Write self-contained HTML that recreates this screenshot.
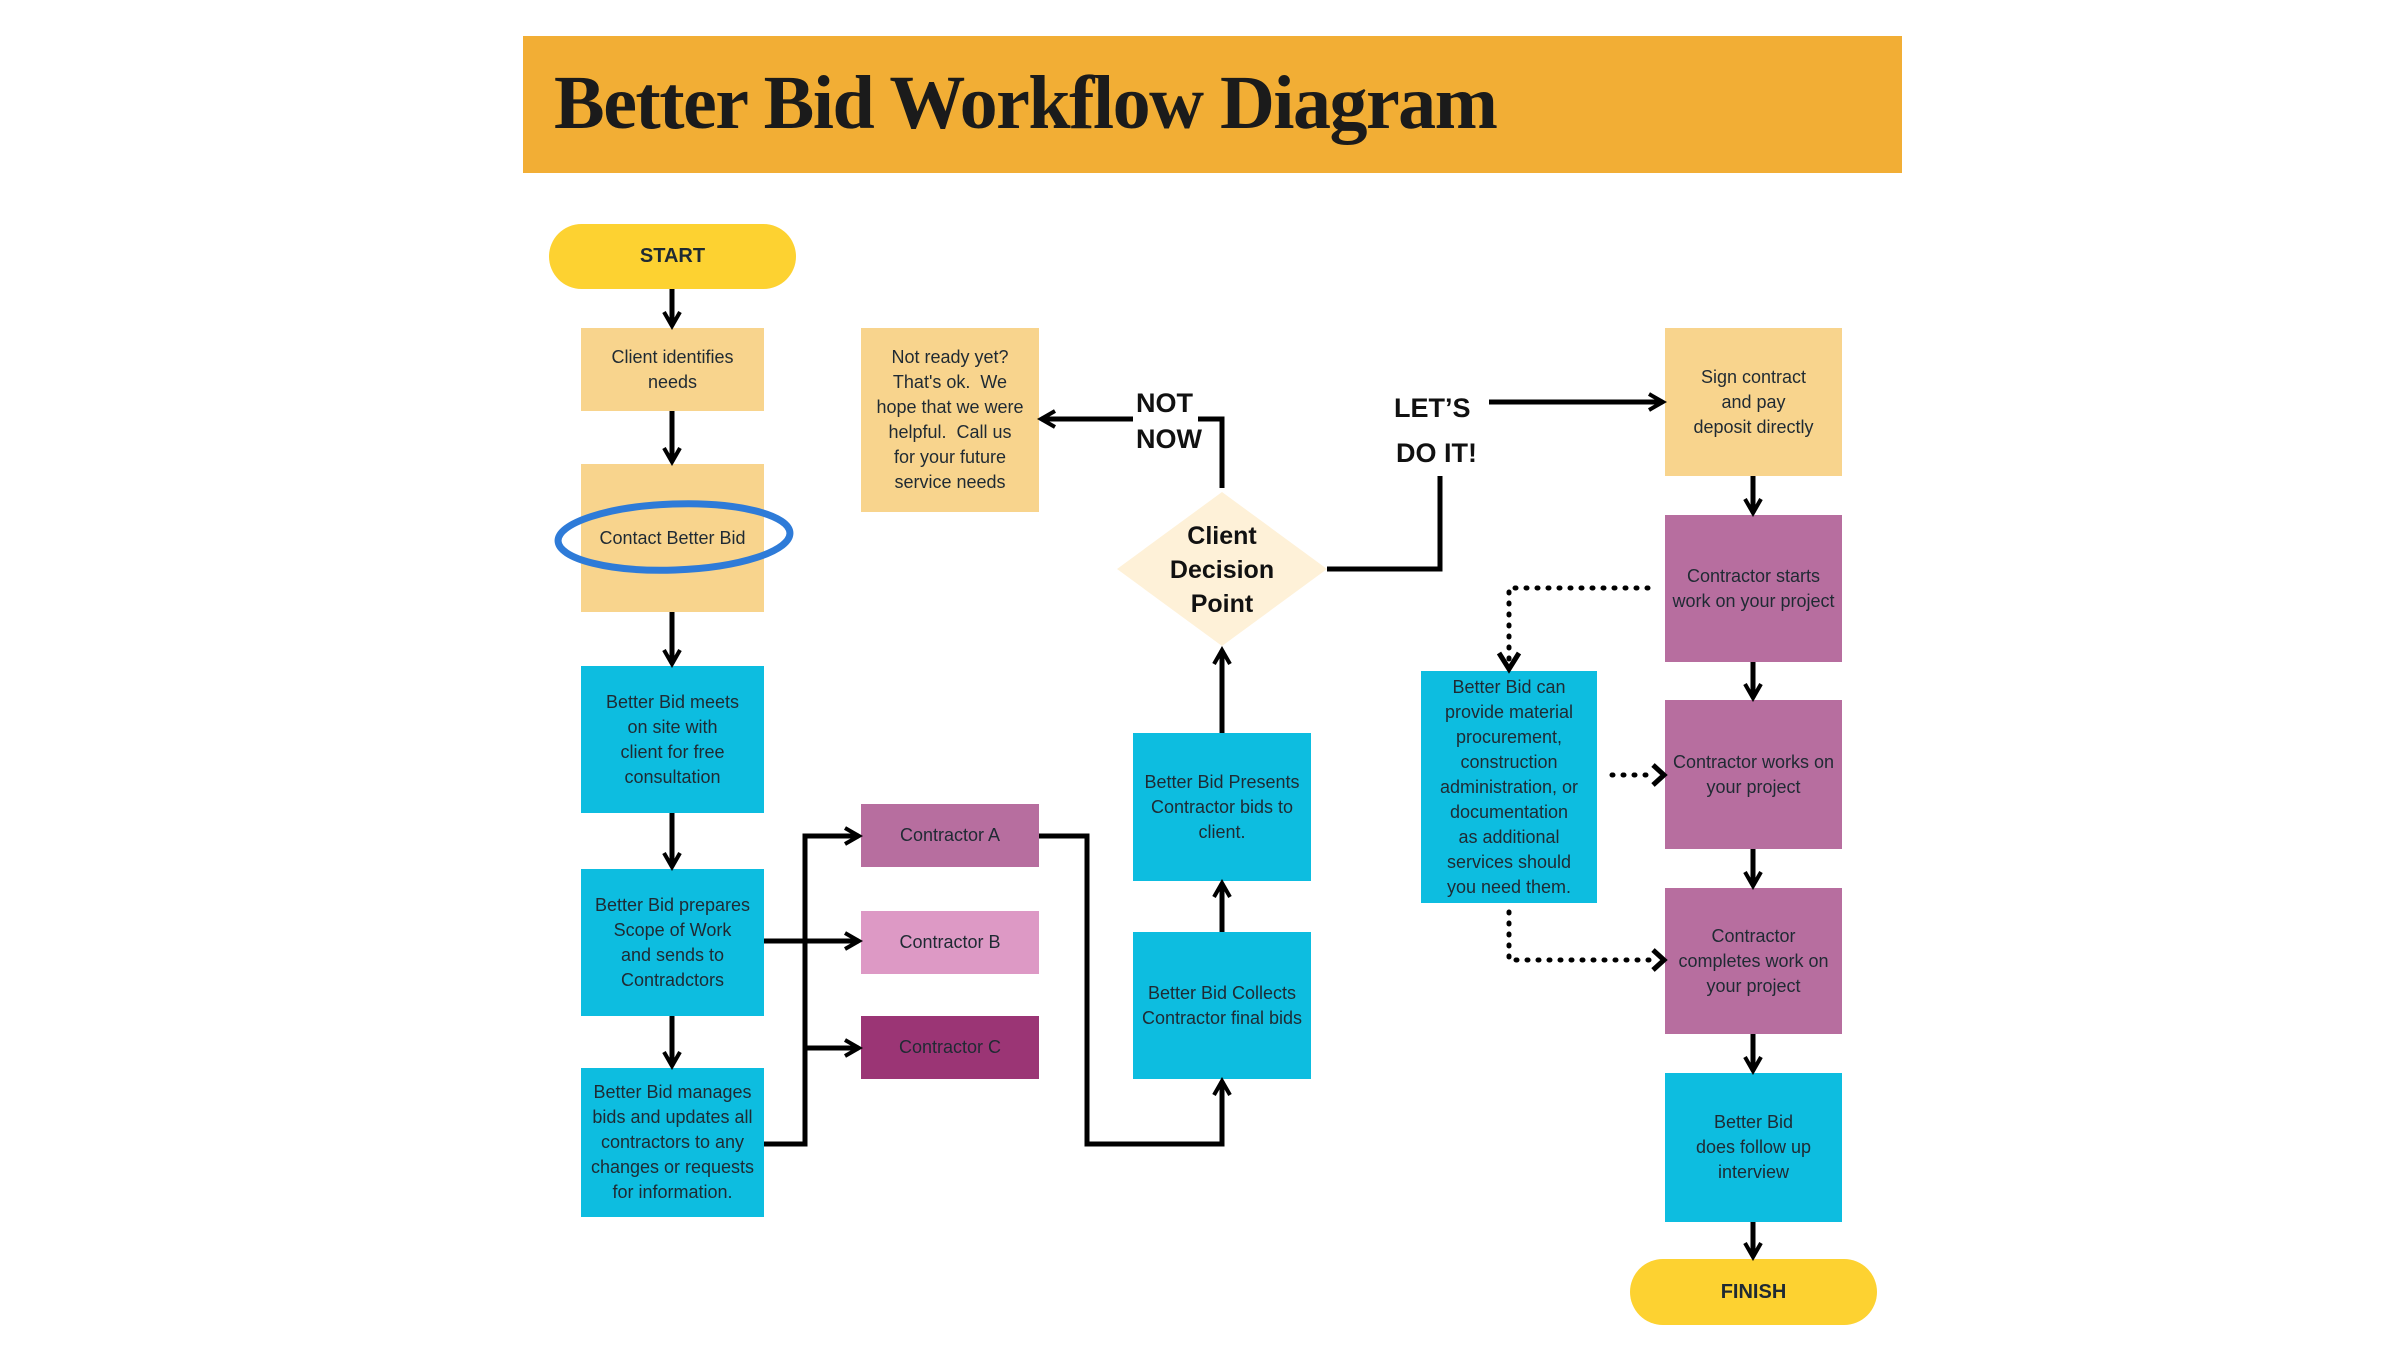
<!DOCTYPE html>
<html><head><meta charset="utf-8"><style>
html,body{margin:0;padding:0;background:#fff;}
body{width:2400px;height:1350px;position:relative;overflow:hidden;font-family:"Liberation Sans",sans-serif;}
.b{position:absolute;display:flex;align-items:center;justify-content:center;text-align:center;font-size:18px;line-height:25px;color:#1f2a33;box-sizing:border-box;padding:0 2px;}
.o{background:#F8D48D;}
.c{background:#0DBDE0;}
.p{background:#B76E9F;}
.lbl{position:absolute;font-weight:bold;font-size:27px;color:#111;line-height:30px;}
svg{position:absolute;left:0;top:0;}
</style></head><body>
<div style="position:absolute;left:523px;top:36px;width:1379px;height:137px;background:#F2AE35;"></div>
<div style="position:absolute;left:554px;top:58px;font-family:'Liberation Serif',serif;font-weight:bold;font-size:76px;letter-spacing:-1.5px;color:#1b1b1b;line-height:90px;">Better Bid Workflow Diagram</div>

<div class="b" style="left:549px;top:224px;width:247px;height:65px;background:#FDD231;border-radius:33px;font-weight:bold;font-size:20px;">START</div>
<div class="b o" style="left:581px;top:328px;width:183px;height:83px;">Client identifies<br>needs</div>
<div class="b o" style="left:581px;top:464px;width:183px;height:148px;">Contact Better Bid</div>
<div class="b c" style="left:581px;top:666px;width:183px;height:147px;">Better Bid meets<br>on site with<br>client for free<br>consultation</div>
<div class="b c" style="left:581px;top:869px;width:183px;height:147px;">Better Bid prepares<br>Scope of Work<br>and sends to<br>Contradctors</div>
<div class="b c" style="left:581px;top:1068px;width:183px;height:149px;">Better Bid manages<br>bids and updates all<br>contractors to any<br>changes or requests<br>for information.</div>

<div class="b o" style="left:861px;top:328px;width:178px;height:184px;">Not ready yet?<br>That's ok.&nbsp; We<br>hope that we were<br>helpful.&nbsp; Call us<br>for your future<br>service needs</div>
<div class="b" style="left:861px;top:804px;width:178px;height:63px;background:#B76E9F;">Contractor A</div>
<div class="b" style="left:861px;top:911px;width:178px;height:63px;background:#DD99C5;">Contractor B</div>
<div class="b" style="left:861px;top:1016px;width:178px;height:63px;background:#9B3575;">Contractor C</div>

<div class="b c" style="left:1133px;top:733px;width:178px;height:148px;">Better Bid Presents<br>Contractor bids to<br>client.</div>
<div class="b c" style="left:1133px;top:932px;width:178px;height:147px;">Better Bid Collects<br>Contractor final bids</div>

<div class="b c" style="left:1421px;top:671px;width:176px;height:232px;">Better Bid can<br>provide material<br>procurement,<br>construction<br>administration, or<br>documentation<br>as additional<br>services should<br>you need them.</div>

<div class="b o" style="left:1665px;top:328px;width:177px;height:148px;">Sign contract<br>and pay<br>deposit directly</div>
<div class="b p" style="left:1665px;top:515px;width:177px;height:147px;">Contractor starts<br>work on your project</div>
<div class="b p" style="left:1665px;top:700px;width:177px;height:149px;">Contractor works on<br>your project</div>
<div class="b p" style="left:1665px;top:888px;width:177px;height:146px;">Contractor<br>completes work on<br>your project</div>
<div class="b c" style="left:1665px;top:1073px;width:177px;height:149px;">Better Bid<br>does follow up<br>interview</div>
<div class="b" style="left:1630px;top:1259px;width:247px;height:66px;background:#FDD231;border-radius:33px;font-weight:bold;font-size:20px;">FINISH</div>

<svg width="2400" height="1350" viewBox="0 0 2400 1350">
<defs><marker id="a" viewBox="0 0 10 10" refX="8" refY="5" markerWidth="4" markerHeight="4" orient="auto"><path d="M1,1 L8,5 L1,9" fill="none" stroke="#000" stroke-width="2"/></marker></defs>
<polygon points="1222,492 1327,569 1222,646 1117,569" fill="#FEF1D8"/>
<ellipse cx="674" cy="537" rx="116" ry="33" fill="none" stroke="#2E7BD8" stroke-width="7" transform="rotate(-2 674 537)"/>
<g stroke="#000" stroke-width="5" fill="none" marker-end="url(#a)">
<line x1="672" y1="289" x2="672" y2="326"/>
<line x1="672" y1="411" x2="672" y2="462"/>
<line x1="672" y1="612" x2="672" y2="664"/>
<line x1="672" y1="813" x2="672" y2="867"/>
<line x1="672" y1="1016" x2="672" y2="1066"/>
<line x1="764" y1="941" x2="859" y2="941"/>
<path d="M764,1144 H805 V836 H859"/>
<path d="M805,1048 H859"/>
<path d="M1039,836 H1087 V1144 H1222 V1081"/>
<line x1="1222" y1="932" x2="1222" y2="883"/>
<line x1="1222" y1="733" x2="1222" y2="650"/>
<line x1="1133" y1="419" x2="1041" y2="419"/>
<line x1="1489" y1="402" x2="1663" y2="402"/>
<line x1="1753" y1="476" x2="1753" y2="513"/>
<line x1="1753" y1="662" x2="1753" y2="698"/>
<line x1="1753" y1="849" x2="1753" y2="886"/>
<line x1="1753" y1="1034" x2="1753" y2="1071"/>
<line x1="1753" y1="1222" x2="1753" y2="1257"/>
</g>
<g stroke="#000" stroke-width="5" fill="none">
<path d="M1198,419 H1222 V488"/>
<path d="M1327,569 H1440 V476"/>
</g>
<g stroke="#000" stroke-width="5" fill="none" stroke-dasharray="1 10" stroke-linecap="round">
<path d="M1648,588 H1509 V660"/>
<path d="M1509,912 V960 H1655"/>
<path d="M1612,775 H1655"/>
</g>
<g stroke="#000" stroke-width="5" fill="none">
<path d="M1499,653 L1509,669 L1519,653"/>
<path d="M1653,950 L1664,960 L1653,970"/>
<path d="M1653,765 L1664,775 L1653,785"/>
</g>
</svg>

<div class="lbl" style="left:1136px;top:388px;">NOT</div>
<div class="lbl" style="left:1136px;top:424px;">NOW</div>
<div class="lbl" style="left:1394px;top:393px;">LET’S</div>
<div class="lbl" style="left:1396px;top:438px;">DO IT!</div>
<div class="b" style="left:1142px;top:515px;width:160px;height:110px;font-weight:bold;font-size:25px;line-height:34px;color:#111;">Client<br>Decision<br>Point</div>
</body></html>
